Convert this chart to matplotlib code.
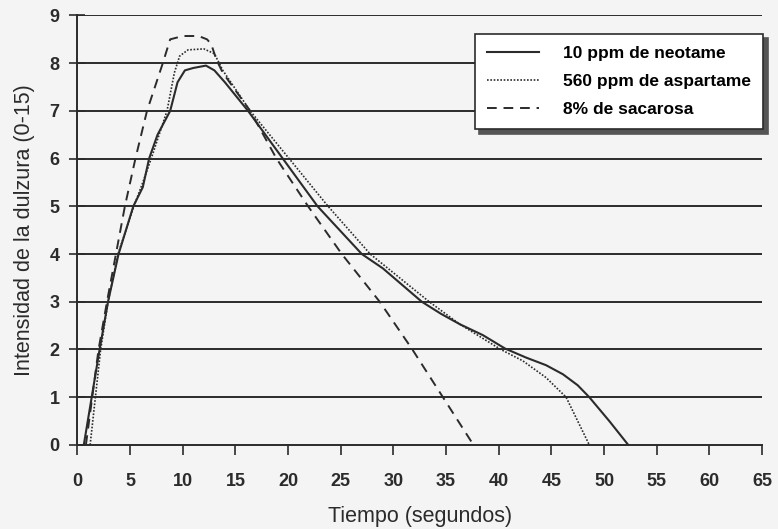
import numpy as np
import matplotlib.pyplot as plt

plt.rcParams['font.family'] = ['Liberation Sans', 'DejaVu Sans']

# time (s) and sweetness intensity
neo_t = [0.6, 1.35, 2.1, 2.9, 3.9, 5.3, 6.2, 6.8, 7.6, 8.8, 9.5, 10.2, 11.0, 12.2, 13.0, 14.0,
         16.2, 19.5, 22.8, 27.0, 29.0, 32.7, 34.5, 36.3, 38.5, 40.6, 42.6, 44.5, 46.1, 47.5, 48.6, 50.5, 52.3]
neo_y = [0, 1, 2, 3, 4, 5, 5.4, 6, 6.5, 7, 7.6, 7.85, 7.9, 7.95, 7.85, 7.6,
         7, 6, 5, 4, 3.7, 3, 2.75, 2.53, 2.3, 2.02, 1.83, 1.67, 1.48, 1.25, 1.0, 0.5, 0]

asp_t = [1.2, 1.7, 2.2, 2.9, 3.85, 5.35, 6.2, 7.0, 8.5, 9.2, 9.7, 10.5, 12.0, 13.0, 13.8,
         16.4, 20.1, 23.8, 27.8, 33.4, 36.3, 40.2, 42.3, 44.5, 46.4, 48.6]
asp_y = [0, 1, 2, 3, 4, 5, 5.5, 6, 7, 7.8, 8.15, 8.28, 8.3, 8.2, 7.85,
         7, 6, 5, 4, 3, 2.53, 2.0, 1.76, 1.41, 1.0, 0]

sac_t = [0.8, 1.4, 2.0, 2.8, 3.65, 4.5, 5.5, 6.6, 8.1, 8.8, 10.0, 11.5, 12.3, 12.7, 13.2, 13.8,
         16.4, 18.9, 21.9, 25.1, 28.7, 31.8, 34.7, 37.6]
sac_y = [0, 1, 2, 3, 4, 5, 6, 7, 8, 8.5, 8.57, 8.57, 8.5, 8.4, 8.07, 7.8,
         7, 6, 5, 4, 3, 2, 1, 0]

labels = ['10 ppm de neotame', '560 ppm de aspartame', '8% de sacarosa']
ink = '#2b2b2b'
bg = '#f4f4f4'

fig = plt.figure(figsize=(7.78, 5.29), dpi=100, facecolor=bg)
ax = fig.add_axes([0.0996, 0.159, 0.8798, 0.8117])
ax.set_facecolor(bg)

for v in range(1, 10):
    ax.axhline(v, color=ink, lw=1.4, zorder=1)

ax.plot(neo_t, neo_y, color=ink, lw=1.5, label=labels[0], zorder=3)
ax.plot(asp_t, asp_y, color=ink, lw=1.2, linestyle=(0, (1, 1)), label=labels[1], zorder=3)
ax.plot(sac_t, sac_y, color=ink, lw=1.4, linestyle=(0, (5, 3.5)), label=labels[2], zorder=3)

ax.set_xlim(0, 65)
ax.set_ylim(0, 9)
ax.set_xticks(np.arange(0, 66, 5))
ax.set_yticks(np.arange(0, 10, 1))
for s in ['top', 'right']:
    ax.spines[s].set_visible(False)
for s in ['left', 'bottom']:
    ax.spines[s].set_color(ink)
    ax.spines[s].set_linewidth(1.4)
ax.tick_params(axis='x', direction='out', length=7, width=1.2, color=ink, pad=13)
ax.tick_params(axis='y', direction='inout', length=12, width=1.2, color=ink, pad=7)
for lab in ax.get_xticklabels() + ax.get_yticklabels():
    lab.set_fontweight('bold')
    lab.set_fontsize(13)
    lab.set_color(ink)

ax.set_xlabel('Tiempo (segundos)', fontsize=15.5, color=ink, labelpad=12)
ax.set_ylabel('Intensidad de la dulzura (0-15)', fontsize=15.5, color=ink, labelpad=10)

leg = ax.legend(loc='upper right', bbox_to_anchor=(1.002, 0.958), frameon=True, fancybox=False,
                shadow={'color': '#555555', 'alpha': 1, 'ox': 3, 'oy': -3}, framealpha=1, edgecolor=ink,
                handlelength=3.0, handletextpad=1.4, borderpad=0.7, labelspacing=0.75,
                borderaxespad=0, prop={'weight': 'bold', 'size': 12.5})
leg.get_frame().set_facecolor('white')
leg.get_frame().set_linewidth(1.2)
leg.set_zorder(5)

fig.savefig('out.png', dpi=100, facecolor=fig.get_facecolor())
